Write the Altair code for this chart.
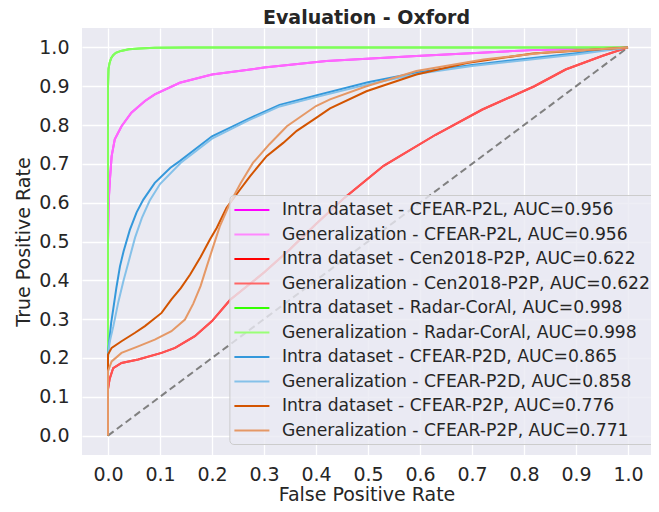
import altair as alt
import pandas as pd

# ---------------- data ----------------
series_names = [
    "Intra dataset - CFEAR-P2L, AUC=0.956",
    "Generalization - CFEAR-P2L, AUC=0.956",
    "Intra dataset - Cen2018-P2P, AUC=0.622",
    "Generalization - Cen2018-P2P, AUC=0.622",
    "Intra dataset - Radar-CorAl, AUC=0.998",
    "Generalization - Radar-CorAl, AUC=0.998",
    "Intra dataset - CFEAR-P2D, AUC=0.865",
    "Generalization - CFEAR-P2D, AUC=0.858",
    "Intra dataset - CFEAR-P2P, AUC=0.776",
    "Generalization - CFEAR-P2P, AUC=0.771",
]
series_colors = [
    "#FF00FF", "#FF88FF",
    "#FF0000", "#FF6666",
    "#33FF00", "#99FF77",
    "#3498DB", "#85C1E9",
    "#D35400", "#E59866",
]
series_alpha = [1, 0.75, 1, 0.8, 1, 0.75, 1, 1, 1, 1]

p2l_fpr = [0, 0, 0.001, 0.002, 0.004, 0.007, 0.013, 0.026, 0.045, 0.071, 0.09, 0.138, 0.2, 0.3, 0.42, 0.593, 0.817, 1.0]
p2l_tpr = [0, 0.5, 0.58, 0.62, 0.665, 0.72, 0.763, 0.797, 0.832, 0.862, 0.879, 0.909, 0.93, 0.948, 0.965, 0.978, 0.993, 1.0]

cen_fpr = [0, 0, 0.003, 0.01, 0.026, 0.058, 0.103, 0.129, 0.167, 0.2, 0.235, 0.3, 0.35, 0.4, 0.455, 0.53, 0.63, 0.72, 0.82, 0.88, 0.95, 1.0]
cen_tpr = [0, 0.12, 0.145, 0.174, 0.187, 0.196, 0.213, 0.226, 0.256, 0.295, 0.35, 0.42, 0.48, 0.545, 0.613, 0.695, 0.775, 0.84, 0.9, 0.943, 0.978, 1.0]

coral_fpr = [0, 0, 0.001, 0.003, 0.006, 0.01, 0.015, 0.025, 0.04, 0.06, 0.09, 0.15, 0.3, 1.0]
coral_tpr = [0, 0.9, 0.945, 0.96, 0.972, 0.98, 0.986, 0.991, 0.995, 0.997, 0.999, 1.0, 1.0, 1.0]

p2d_fpr = [0, 0, 0.003, 0.006, 0.01, 0.016, 0.023, 0.03, 0.042, 0.055, 0.068, 0.09, 0.12, 0.138, 0.2, 0.27, 0.33, 0.4, 0.5, 0.6, 0.7, 0.8, 0.9, 1.0]
p2d_tpr = [0, 0.21, 0.25, 0.29, 0.325, 0.38, 0.436, 0.475, 0.53, 0.575, 0.608, 0.651, 0.69, 0.707, 0.771, 0.816, 0.852, 0.876, 0.91, 0.937, 0.955, 0.97, 0.985, 1.0]

p2d_gen_fpr = [0, 0, 0.003, 0.01, 0.02, 0.03, 0.04, 0.052, 0.065, 0.08, 0.1, 0.14, 0.2, 0.27, 0.33, 0.4, 0.5, 0.6, 0.7, 0.8, 0.9, 1.0]
p2d_gen_tpr = [0, 0.2, 0.24, 0.28, 0.345, 0.4, 0.45, 0.51, 0.56, 0.605, 0.648, 0.703, 0.765, 0.812, 0.848, 0.872, 0.905, 0.933, 0.952, 0.967, 0.982, 1.0]

p2p_fpr = [0, 0, 0.007, 0.026, 0.052, 0.071, 0.103, 0.122, 0.14, 0.158, 0.178, 0.196, 0.209, 0.228, 0.254, 0.273, 0.305, 0.337, 0.363, 0.401, 0.427, 0.497, 0.593, 0.69, 0.817, 1.0]
p2p_tpr = [0, 0.209, 0.226, 0.243, 0.265, 0.282, 0.316, 0.351, 0.38, 0.415, 0.46, 0.505, 0.535, 0.587, 0.634, 0.668, 0.72, 0.754, 0.785, 0.819, 0.843, 0.887, 0.93, 0.96, 0.984, 1.0]

p2p_gen_fpr = [0, 0, 0.007, 0.026, 0.058, 0.09, 0.122, 0.148, 0.164, 0.178, 0.19, 0.203, 0.215, 0.235, 0.255, 0.279, 0.31, 0.344, 0.4, 0.427, 0.497, 0.593, 0.722, 0.85, 1.0]
p2p_gen_tpr = [0, 0.166, 0.191, 0.213, 0.23, 0.247, 0.269, 0.299, 0.34, 0.385, 0.436, 0.49, 0.539, 0.6, 0.65, 0.703, 0.75, 0.797, 0.849, 0.866, 0.9, 0.939, 0.969, 0.988, 1.0]

diag_x = [0.0, 1.0]
diag_y = [0.0, 1.0]

tick_values = [0.0, 0.1, 0.2, 0.3, 0.4, 0.5, 0.6, 0.7, 0.8, 0.9, 1.0]

curves = [
    (p2l_fpr, p2l_tpr), (p2l_fpr, p2l_tpr),
    (cen_fpr, cen_tpr), (cen_fpr, cen_tpr),
    (coral_fpr, coral_tpr), (coral_fpr, coral_tpr),
    (p2d_fpr, p2d_tpr), (p2d_gen_fpr, p2d_gen_tpr),
    (p2p_fpr, p2p_tpr), (p2p_gen_fpr, p2p_gen_tpr),
]

rows = []
for name, alpha, (fx, ty) in zip(series_names, series_alpha, curves):
    for i, (a, b) in enumerate(zip(fx, ty)):
        rows.append({"series": name, "fpr": a, "tpr": b, "idx": i, "alpha": alpha})
df = pd.DataFrame(rows)
diag_df = pd.DataFrame({"fpr": diag_x, "tpr": diag_y})

FONT = "DejaVu Sans"
TXT = "#262626"

# plot area: 520 px per unit; the right margin is trimmed slightly so the page does not overflow
PLOT_W = 569
PLOT_H = 427
x_scale = alt.Scale(domain=[-0.05, -0.05 + PLOT_W / 520.0], nice=False, zero=False)
y_scale = alt.Scale(domain=[-0.05, 1.05], nice=False, zero=False)

x_axis = alt.Axis(values=tick_values, format=".1f", title="False Positive Rate",
                  labelPadding=10, titlePadding=1)
y_axis = alt.Axis(values=tick_values, format=".1f", title="True Positive Rate",
                  labelPadding=13, titlePadding=5)

diag = alt.Chart(diag_df).mark_line(
    color="#808080", strokeWidth=2, strokeDash=[7, 4]
).encode(
    x=alt.X("fpr:Q", scale=x_scale, axis=x_axis),
    y=alt.Y("tpr:Q", scale=y_scale, axis=y_axis),
)

lines = alt.Chart(df).mark_line(strokeWidth=2).encode(
    x=alt.X("fpr:Q", scale=x_scale, axis=x_axis),
    y=alt.Y("tpr:Q", scale=y_scale, axis=y_axis),
    color=alt.Color(
        "series:N",
        sort=series_names,
        scale=alt.Scale(domain=series_names, range=series_colors),
        legend=alt.Legend(
            title=None,
            orient="none",
            legendX=147.4,
            legendY=167,
            fillColor="rgba(234,234,242,0.8)",
            strokeColor="#cccccc",
            cornerRadius=4,
            padding=5,
            symbolType="M-1.944,0H1.944",
            symbolSize=324,
            symbolStrokeWidth=2,
            symbolOffset=7.5,
            labelOffset=20,
            rowPadding=5.5,
            labelFontSize=17.2,
            labelFont=FONT,
            labelColor=TXT,
            labelLimit=600,
        ),
    ),
    opacity=alt.Opacity("alpha:Q", scale=None, legend=None),
    order=alt.Order("idx:Q"),
)

chart = alt.layer(diag, lines).properties(
    width=PLOT_W,
    height=PLOT_H,
    title=alt.TitleParams(
        "Evaluation - Oxford",
        fontSize=19,
        fontWeight="bold",
        font=FONT,
        color=TXT,
        anchor="middle",
        frame="group",
        offset=0,
    ),
    autosize=alt.AutoSizeParams(type="none"),
    padding={"left": 74, "top": 20, "right": 0, "bottom": 49},
).configure_view(
    fill="#EAEAF2",
    strokeWidth=0,
).configure_axis(
    domain=False,
    ticks=False,
    tickSize=0,
    grid=True,
    gridColor="#FFFFFF",
    gridWidth=1.3,
    labelFont=FONT,
    labelFontSize=19,
    labelColor=TXT,
    titleFont=FONT,
    titleFontSize=19,
    titleFontWeight="normal",
    titleColor=TXT,
)

chart.save("out.html", embed_options={"renderer": "svg", "actions": False})
